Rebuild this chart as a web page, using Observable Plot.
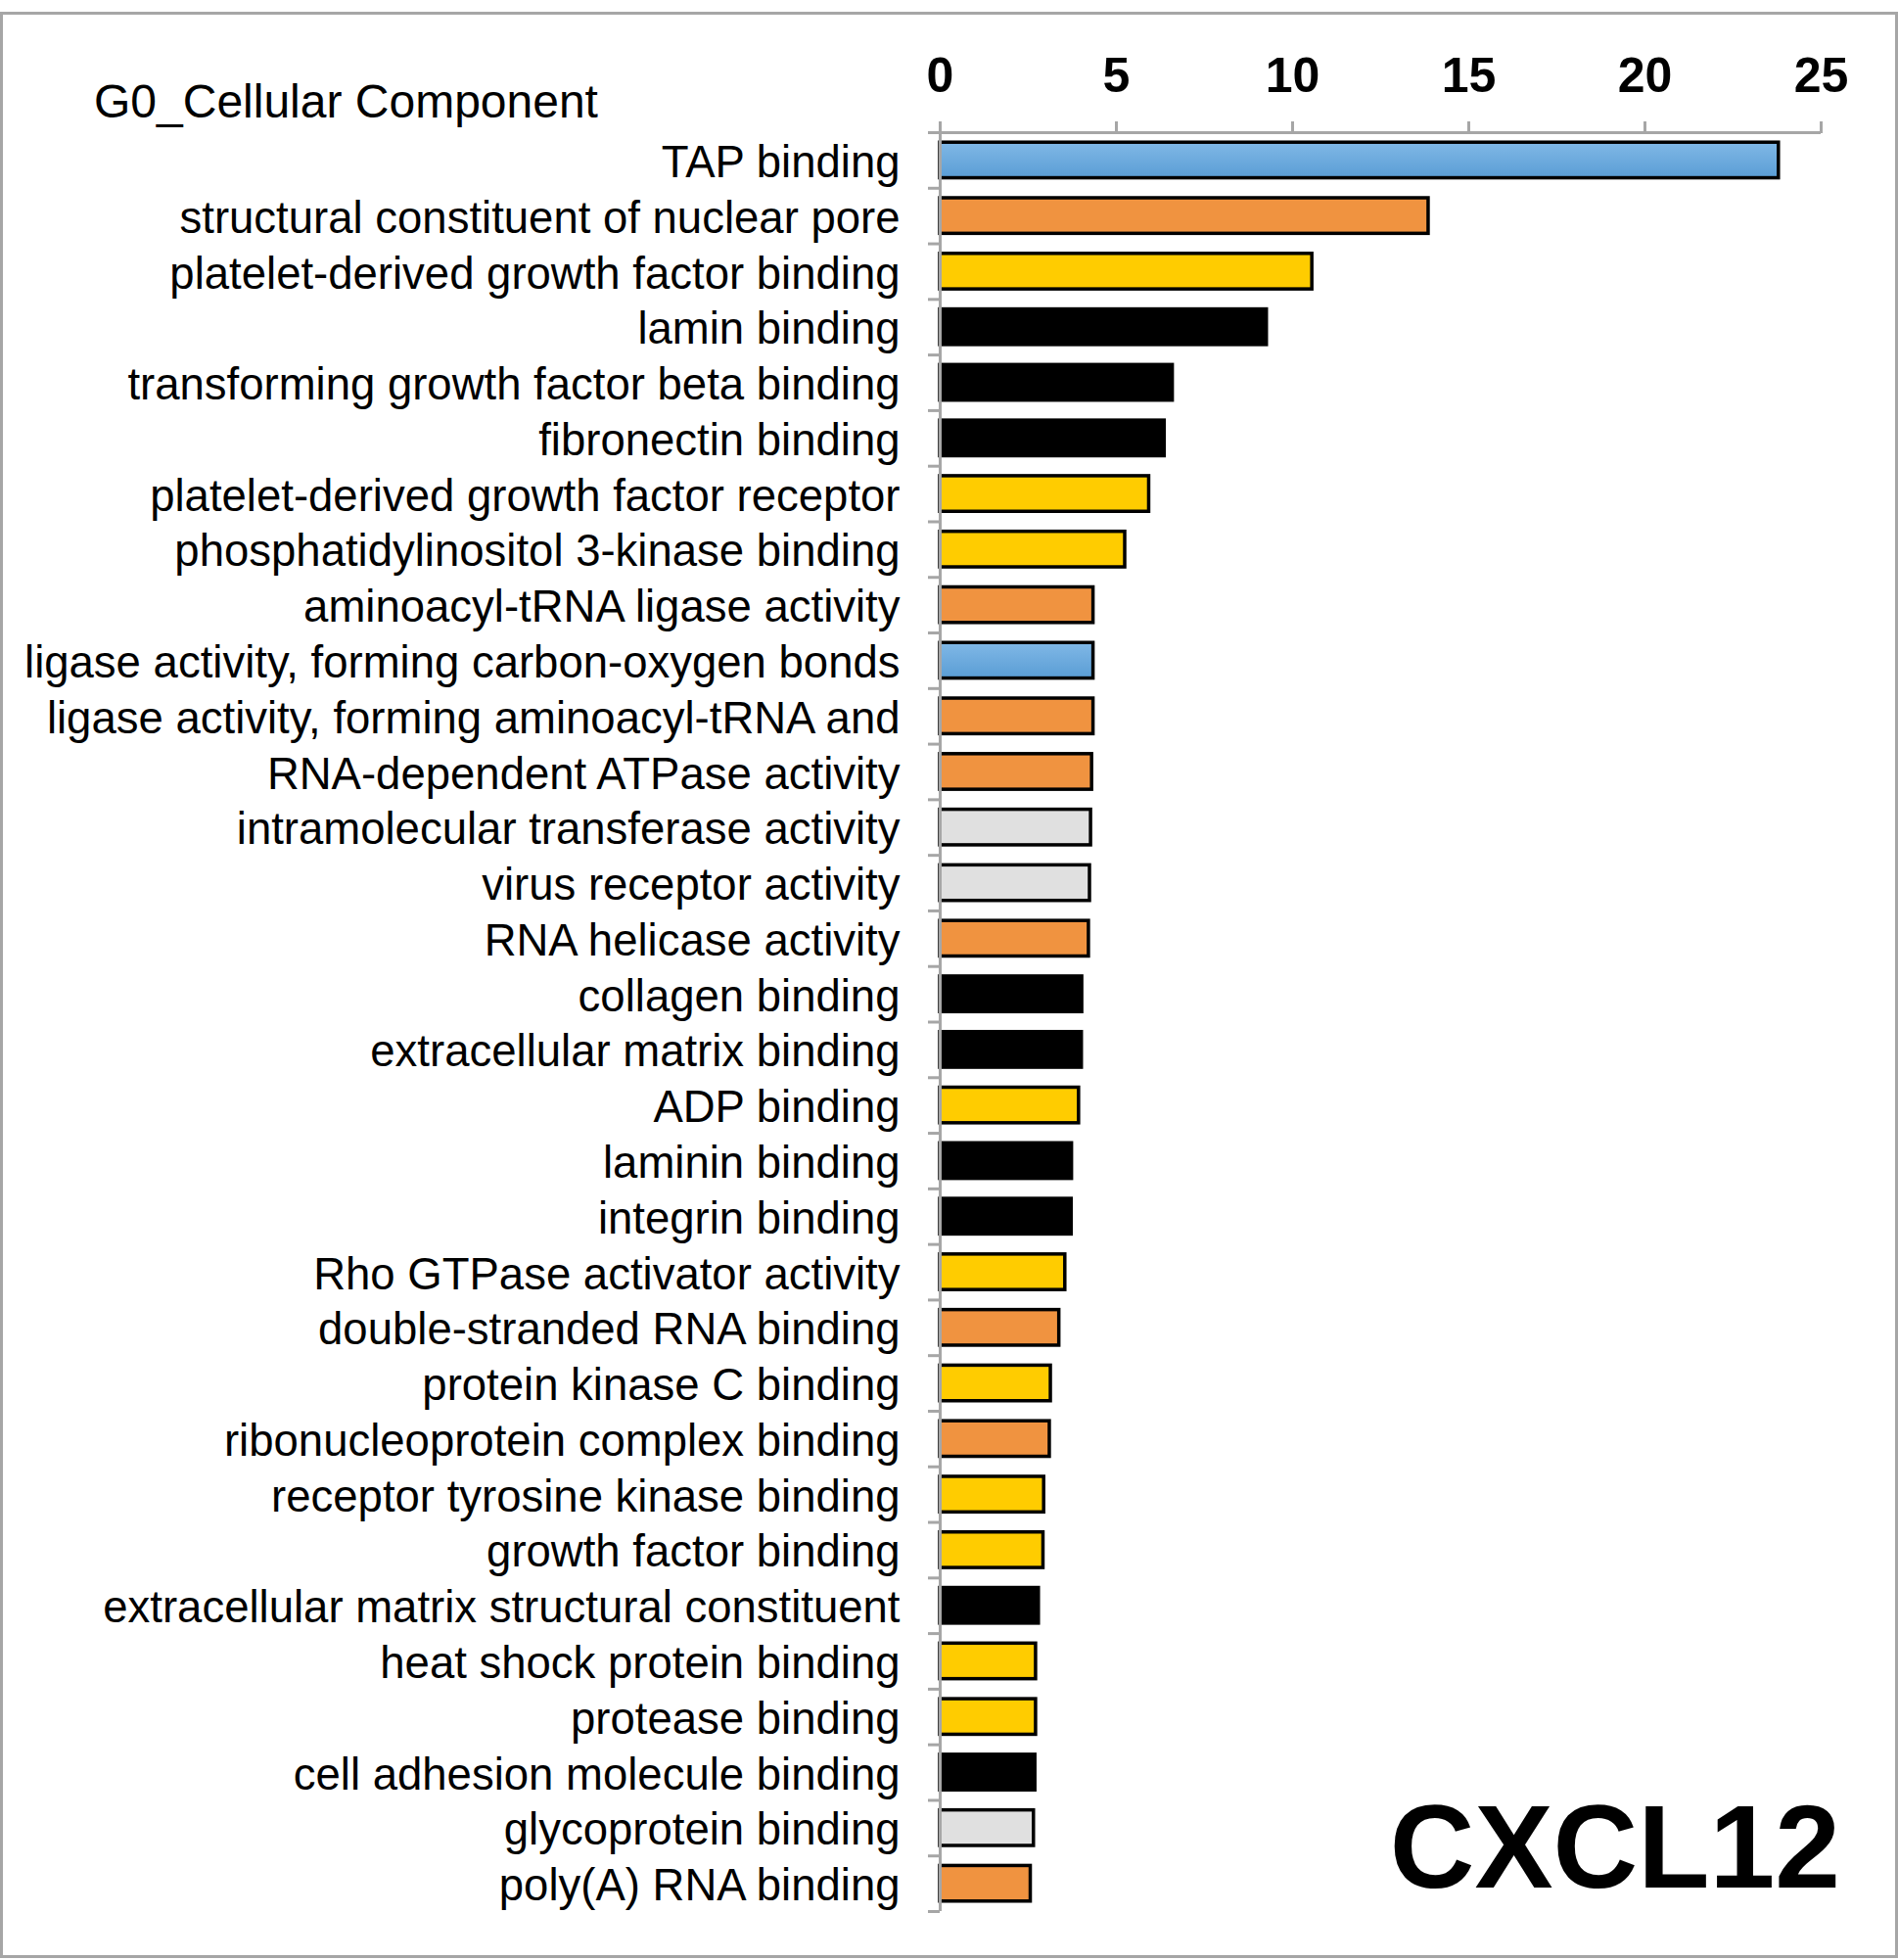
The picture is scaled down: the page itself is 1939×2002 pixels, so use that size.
<!DOCTYPE html>
<html>
<head>
<meta charset="utf-8">
<script src="https://cdn.jsdelivr.net/npm/d3@7"></script>
<script src="https://cdn.jsdelivr.net/npm/@observablehq/plot@0.6"></script>
<style>
  html, body { margin: 0; padding: 0; background: #fff; }
  #wrap { position: relative; width: 1939px; height: 2002px; overflow: hidden; font-family: "Liberation Sans", Arial, sans-serif; }
  #chart { position: absolute; left: 0; top: 0; }
  #border { position: absolute; left: 0; top: 12px; width: 1939px; height: 1988px; box-sizing: border-box; border: 3px solid #a6a6a6; pointer-events: none; }
  #title { position: absolute; left: 96px; top: 80px; font-size: 48px; line-height: 48px; color: #000; white-space: nowrap; }
  #gene { position: absolute; right: 59px; top: 1826px; font-size: 120px; line-height: 120px; font-weight: bold; color: #000; white-space: nowrap; }
</style>
</head>
<body>
<div id="wrap">
  <div id="chart"></div>
  <div id="title">G0_Cellular Component</div>
  <div id="gene">CXCL12</div>
  <div id="border"></div>
</div>
<script>
const terms = [
  "TAP binding",
  "structural constituent of nuclear pore",
  "platelet-derived growth factor binding",
  "lamin binding",
  "transforming growth factor beta binding",
  "fibronectin binding",
  "platelet-derived growth factor receptor",
  "phosphatidylinositol 3-kinase binding",
  "aminoacyl-tRNA ligase activity",
  "ligase activity, forming carbon-oxygen bonds",
  "ligase activity, forming aminoacyl-tRNA and",
  "RNA-dependent ATPase activity",
  "intramolecular transferase activity",
  "virus receptor activity",
  "RNA helicase activity",
  "collagen binding",
  "extracellular matrix binding",
  "ADP binding",
  "laminin binding",
  "integrin binding",
  "Rho GTPase activator activity",
  "double-stranded RNA binding",
  "protein kinase C binding",
  "ribonucleoprotein complex binding",
  "receptor tyrosine kinase binding",
  "growth factor binding",
  "extracellular matrix structural constituent",
  "heat shock protein binding",
  "protease binding",
  "cell adhesion molecule binding",
  "glycoprotein binding",
  "poly(A) RNA binding"
];
const values = [
  23.8, 13.86, 10.56, 9.27, 6.6, 6.37, 5.93, 5.25,
  4.35, 4.35, 4.35, 4.31, 4.28, 4.25, 4.22, 4.03,
  4.02, 3.94, 3.74, 3.73, 3.55, 3.38, 3.14, 3.11,
  2.95, 2.93, 2.8, 2.72, 2.72, 2.7, 2.66, 2.57
];
const groups = [
  "G1", "G2", "G3", "G4", "G4", "G4", "G3", "G3",
  "G2", "G1", "G2", "G2", "G5", "G5", "G2", "G4",
  "G4", "G3", "G4", "G4", "G3", "G2", "G3", "G2",
  "G3", "G3", "G4", "G3", "G3", "G4", "G5", "G2"
];
const groupNames = ["G1", "G2", "G3", "G4", "G5"];
const xTicks = [0, 5, 10, 15, 20, 25];

const rows = terms.map((t, i) => ({term: t, value: values[i], group: groups[i]}));

const W = 1939, H = 2002;
const mTop = 135, mBottom = 50, mLeft = 960, mRight = 79;
const step = (H - mTop - mBottom) / terms.length;
const axisGray = "#a6a6a6";

const chart = Plot.plot({
  width: W,
  height: H,
  marginTop: mTop,
  marginBottom: mBottom,
  marginLeft: mLeft,
  marginRight: mRight,
  style: {fontFamily: "'Liberation Sans', Arial, sans-serif", background: "transparent", overflow: "visible"},
  x: {domain: [0, 25], axis: null},
  y: {domain: terms, paddingInner: 0.36, paddingOuter: 0.18, round: false, axis: null},
  color: {type: "ordinal", domain: groupNames, range: ["url(#blueGrad)", "#f09340", "#ffcc00", "#000000", "#e0e0e0"]},
  marks: [
    Plot.barX(rows, {x: "value", y: "term", fill: "group", stroke: "black", strokeWidth: 3.5}),
    Plot.ruleX([0], {stroke: axisGray, strokeWidth: 3}),
    Plot.ruleY([terms[0]], {y: d => d, x1: 0, x2: 25, dy: -step / 2, stroke: axisGray, strokeWidth: 3}),
    Plot.ruleY(terms, {y: d => d, x1: 0, x2: 0, insetLeft: -12, dy: -step / 2, stroke: axisGray, strokeWidth: 3}),
    Plot.ruleY([terms[terms.length - 1]], {y: d => d, x1: 0, x2: 0, insetLeft: -12, dy: step / 2, stroke: axisGray, strokeWidth: 3}),
    Plot.axisX({anchor: "top", ticks: xTicks, label: null, tickSize: 12, tickPadding: 30, stroke: axisGray, strokeWidth: 3, fill: "black", fontSize: 50, fontWeight: "bold"}),
    Plot.axisY({anchor: "left", label: null, tickSize: 0, tickPadding: 41, fill: "black", fontSize: 45.5, dy: 2.5})
  ]
});

const svgNS = "http://www.w3.org/2000/svg";
const defs = document.createElementNS(svgNS, "defs");
defs.innerHTML = '<linearGradient id="blueGrad" x1="0" y1="0" x2="0" y2="1">' +
  '<stop offset="0" stop-color="#80b8e6"/><stop offset="1" stop-color="#5a9dd5"/></linearGradient>';
chart.insertBefore(defs, chart.firstChild);

document.getElementById("chart").appendChild(chart);
</script>
</body>
</html>
